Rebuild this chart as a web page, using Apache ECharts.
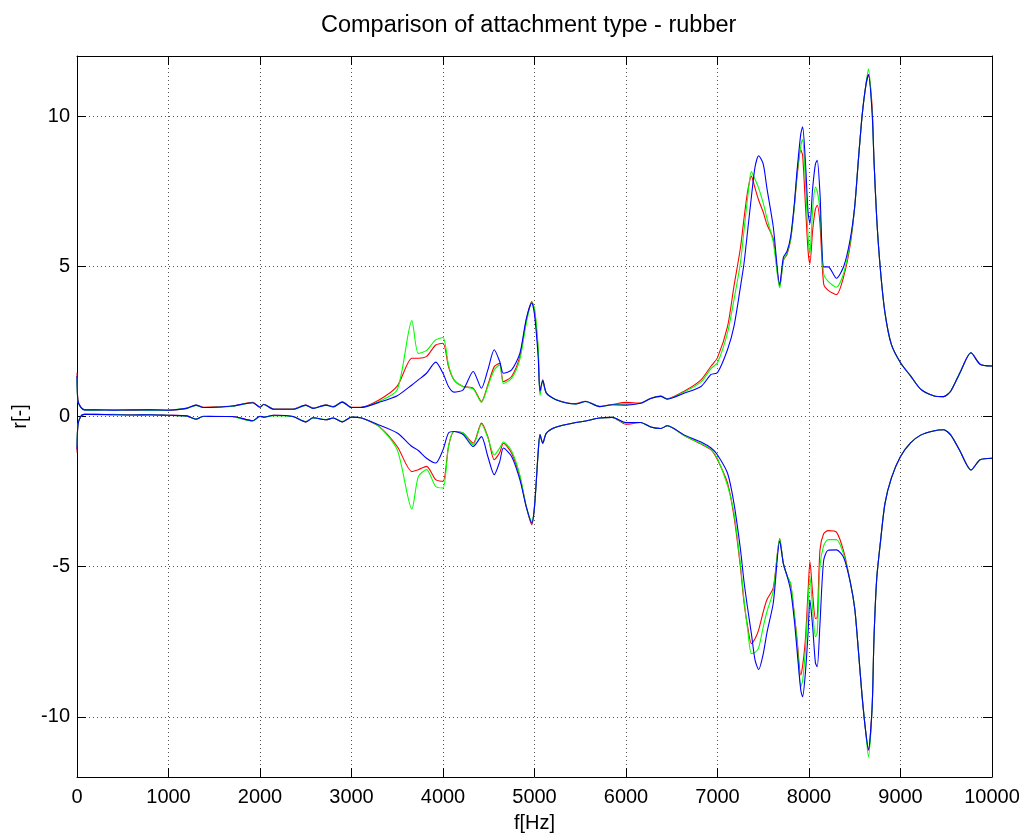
<!DOCTYPE html>
<html>
<head>
<meta charset="utf-8">
<style>
  html, body { margin: 0; padding: 0; background: #fff; }
  #chart { width: 1027px; height: 840px; }
</style>
<script src="https://cdn.jsdelivr.net/npm/echarts@6/dist/echarts.min.js"></script>
</head>
<body>
<div id="chart"></div>
<script>
// Frequency samples [Hz] shared by every curve
const freqHz = [
  0, 10, 40, 80, 200, 400, 600, 800, 1000, 1200, 1300, 1380, 1520, 1700, 1920, 2000, 2040, 2150, 2360, 2500,
  2580, 2720, 2800, 2900, 3000, 3100, 3300, 3500, 3660, 3730, 3820, 3920, 4000, 4060, 4120, 4220, 4330, 4420, 4490, 4560,
  4620, 4660, 4750, 4840, 4910, 4970, 5000, 5040, 5060, 5090, 5130, 5240, 5450, 5560, 5710, 5850, 6000, 6160, 6270, 6380,
  6450, 6640, 6820, 6930, 7000, 7110, 7180, 7250, 7290, 7330, 7370, 7410, 7450, 7500, 7540, 7610, 7680, 7720, 7760, 7800,
  7840, 7870, 7910, 7930, 7960, 7990, 8010, 8040, 8070, 8090, 8120, 8160, 8210, 8300, 8380, 8450, 8500, 8540, 8580, 8620,
  8650, 8690, 8710, 8740, 8780, 8830, 8900, 9000, 9110, 9220, 9360, 9470, 9550, 9650, 9770, 9870, 10000
];

// Red curve, upper and lower branch
const redUpper = [
  1.46, 0.55, 0.32, 0.23, 0.22, 0.23, 0.21, 0.23, 0.21, 0.28, 0.38, 0.31, 0.32, 0.35, 0.47, 0.31, 0.41, 0.25, 0.25, 0.38,
  0.28, 0.39, 0.33, 0.49, 0.31, 0.31, 0.55, 1.01, 1.94, 1.94, 2.00, 2.38, 2.44, 1.66, 1.22, 1.00, 0.94, 0.50, 1.05, 1.66,
  1.77, 1.16, 1.33, 2.00, 3.20, 3.83, 3.55, 2.20, 0.80, 1.22, 0.78, 0.56, 0.43, 0.51, 0.34, 0.40, 0.47, 0.45, 0.61, 0.68,
  0.59, 0.85, 1.22, 1.68, 1.96, 3.00, 4.34, 5.60, 6.60, 7.50, 8.00, 7.60, 7.20, 6.80, 6.40, 5.90, 4.33, 5.20, 5.40, 5.90,
  7.00, 8.00, 8.87, 8.70, 7.10, 5.50, 5.09, 6.20, 6.90, 7.03, 6.42, 4.42, 4.20, 4.06, 4.67, 5.70, 7.00, 8.55, 10.00, 11.00,
  11.38, 10.30, 8.55, 6.60, 4.90, 3.46, 2.40, 1.79, 1.35, 0.91, 0.69, 0.66, 0.85, 1.46, 2.12, 1.74, 1.68
];
const redLower = [
  -1.20, -0.30, 0.00, 0.07, 0.07, 0.06, 0.06, 0.05, 0.04, 0.02, -0.09, 0.00, 0.00, 0.00, -0.14, 0.00, -0.02, 0.04, 0.00, -0.18,
  -0.04, -0.11, -0.05, -0.18, -0.02, -0.04, -0.33, -1.00, -1.83, -1.77, -1.66, -2.10, -2.16, -1.00, -0.50, -0.55, -0.89, -0.22, -0.67, -1.44,
  -1.20, -0.89, -1.22, -2.00, -3.00, -3.60, -3.00, -1.20, -0.60, -0.89, -0.55, -0.35, -0.20, -0.15, -0.05, -0.03, -0.26, -0.20, -0.35, -0.40,
  -0.31, -0.64, -0.92, -1.11, -1.44, -2.22, -3.33, -5.00, -6.20, -7.00, -7.56, -7.40, -7.10, -6.50, -6.10, -5.70, -4.06, -4.90, -5.30, -5.60,
  -6.60, -7.44, -8.60, -8.30, -7.44, -5.80, -4.83, -5.90, -6.72, -6.70, -4.44, -3.90, -3.80, -3.85, -4.50, -5.50, -6.40, -7.80, -9.30, -10.50,
  -11.10, -9.67, -7.40, -5.40, -4.20, -2.90, -2.05, -1.33, -0.88, -0.62, -0.48, -0.44, -0.62, -1.15, -1.78, -1.44, -1.39
];

// Green curve, upper and lower branch
const greenUpper = [
  1.30, 0.50, 0.30, 0.22, 0.21, 0.22, 0.22, 0.21, 0.22, 0.27, 0.37, 0.30, 0.31, 0.34, 0.46, 0.30, 0.40, 0.24, 0.24, 0.37,
  0.27, 0.38, 0.33, 0.48, 0.30, 0.30, 0.50, 0.89, 3.19, 2.10, 2.20, 2.55, 2.63, 1.72, 1.22, 1.00, 0.92, 0.47, 1.00, 1.55,
  1.72, 1.10, 1.27, 1.90, 3.10, 3.80, 3.60, 2.30, 0.70, 1.15, 0.78, 0.55, 0.42, 0.50, 0.33, 0.39, 0.42, 0.44, 0.60, 0.67,
  0.58, 0.82, 1.15, 1.60, 1.79, 2.79, 3.89, 5.10, 6.20, 7.30, 8.15, 7.90, 7.60, 7.10, 6.60, 5.80, 4.28, 5.20, 5.45, 5.90,
  7.00, 8.10, 9.00, 9.22, 7.90, 6.00, 5.42, 6.90, 7.64, 7.50, 6.87, 4.76, 4.50, 4.30, 4.78, 5.80, 7.00, 8.55, 10.00, 11.00,
  11.57, 10.10, 8.55, 6.60, 4.90, 3.46, 2.40, 1.79, 1.35, 0.91, 0.69, 0.66, 0.85, 1.46, 2.12, 1.74, 1.68
];
const greenLower = [
  -1.00, -0.28, 0.00, 0.07, 0.06, 0.07, 0.05, 0.06, 0.04, 0.01, -0.08, 0.00, 0.01, -0.01, -0.15, 0.00, -0.02, 0.03, 0.00, -0.17,
  -0.05, -0.10, -0.05, -0.17, -0.02, -0.04, -0.33, -1.11, -3.08, -2.00, -1.77, -2.33, -2.38, -1.00, -0.50, -0.55, -0.95, -0.25, -0.70, -1.28,
  -1.05, -0.85, -1.15, -1.95, -3.00, -3.50, -3.00, -1.20, -0.60, -0.89, -0.55, -0.35, -0.20, -0.15, -0.05, -0.03, -0.22, -0.20, -0.35, -0.40,
  -0.31, -0.64, -0.90, -1.10, -1.40, -2.30, -3.20, -4.90, -6.10, -7.10, -7.89, -7.85, -7.70, -7.00, -6.50, -5.80, -4.06, -4.90, -5.30, -5.56,
  -6.60, -7.50, -9.00, -8.80, -7.80, -6.20, -5.33, -6.40, -7.33, -7.20, -5.00, -4.30, -4.10, -4.10, -4.60, -5.50, -6.40, -7.80, -9.30, -10.50,
  -11.33, -9.67, -7.40, -5.40, -4.20, -2.90, -2.05, -1.33, -0.88, -0.62, -0.48, -0.44, -0.62, -1.15, -1.78, -1.44, -1.39
];

// Blue curve, upper and lower branch
const blueUpper = [
  1.35, 0.52, 0.31, 0.22, 0.22, 0.21, 0.22, 0.22, 0.21, 0.27, 0.38, 0.30, 0.31, 0.35, 0.46, 0.31, 0.40, 0.24, 0.24, 0.38,
  0.27, 0.38, 0.32, 0.48, 0.30, 0.30, 0.47, 0.69, 1.05, 1.22, 1.44, 1.81, 1.44, 1.00, 0.81, 0.89, 1.50, 0.94, 1.55, 2.22,
  1.83, 1.44, 1.55, 2.10, 3.25, 3.78, 3.40, 2.00, 0.85, 1.20, 0.78, 0.55, 0.42, 0.50, 0.33, 0.39, 0.38, 0.44, 0.60, 0.67,
  0.58, 0.78, 1.00, 1.40, 1.46, 2.23, 3.00, 4.30, 5.10, 6.20, 7.30, 8.30, 8.68, 8.40, 7.60, 6.30, 4.40, 5.30, 5.50, 6.00,
  7.10, 8.20, 9.40, 9.64, 8.53, 6.80, 6.42, 7.60, 8.40, 8.53, 7.42, 4.98, 4.98, 4.60, 5.00, 5.90, 7.00, 8.55, 10.00, 11.00,
  11.38, 10.10, 8.55, 6.60, 4.90, 3.46, 2.40, 1.79, 1.35, 0.91, 0.69, 0.66, 0.85, 1.46, 2.12, 1.74, 1.68
];
const blueLower = [
  -1.10, -0.29, 0.00, 0.07, 0.07, 0.06, 0.05, 0.06, 0.04, 0.02, -0.09, 0.01, 0.00, 0.00, -0.14, 0.01, -0.02, 0.04, 0.00, -0.18,
  -0.04, -0.11, -0.05, -0.18, -0.02, -0.04, -0.28, -0.55, -1.00, -1.13, -1.39, -1.55, -1.11, -0.55, -0.50, -0.60, -1.00, -0.67, -1.33, -1.94,
  -1.50, -1.05, -1.33, -2.10, -3.00, -3.55, -3.00, -1.20, -0.60, -0.89, -0.55, -0.35, -0.20, -0.15, -0.05, -0.03, -0.20, -0.20, -0.35, -0.40,
  -0.31, -0.62, -0.85, -1.05, -1.28, -1.89, -2.89, -4.40, -5.50, -6.40, -7.22, -8.10, -8.42, -7.90, -7.20, -6.20, -4.15, -4.90, -5.30, -5.80,
  -6.80, -7.80, -9.10, -9.33, -8.56, -7.20, -6.10, -7.00, -8.20, -8.33, -6.90, -4.80, -4.45, -4.44, -4.70, -5.50, -6.40, -7.80, -9.30, -10.50,
  -11.10, -9.67, -7.40, -5.40, -4.20, -2.90, -2.05, -1.33, -0.88, -0.62, -0.48, -0.44, -0.62, -1.15, -1.78, -1.44, -1.39
];

const xTicks = [0, 1000, 2000, 3000, 4000, 5000, 6000, 7000, 8000, 9000, 10000];
const yTicks = [-10, -5, 0, 5, 10];

const pairs = (vals) => freqHz.map((f, i) => [f, vals[i]]);

const chart = echarts.init(document.getElementById('chart'), null, { renderer: 'canvas' });

const fontFamily = '"Liberation Sans", Arial, Helvetica, sans-serif';
const gridLine = { show: true, lineStyle: { color: '#555', width: 1, type: [1, 3] } };
const tickStyle = { show: true, inside: true, length: 9, lineStyle: { color: '#000', width: 1 } };
const frame = { show: true, onZero: false, lineStyle: { color: '#000', width: 1 } };
const plain = (v) => String(v);

function lineSeries(name, color, vals) {
  return {
    name, type: 'line', data: pairs(vals),
    showSymbol: false, symbol: 'none', smooth: 0.25,
    lineStyle: { color, width: 1.1 }, itemStyle: { color },
    xAxisIndex: 0, yAxisIndex: 0, z: 3
  };
}

chart.setOption({
  animation: false,
  backgroundColor: '#fff',
  title: {
    text: 'Comparison of attachment type - rubber',
    left: 316, top: 9,
    textStyle: { fontFamily, fontSize: 23.5, fontWeight: 'normal', color: '#000' }
  },
  grid: { left: 77, right: 35, top: 56, bottom: 63 },
  xAxis: [
    {
      type: 'value', position: 'bottom', min: 0, max: 10000, interval: 1000,
      name: 'f[Hz]', nameLocation: 'middle', nameGap: 36,
      nameTextStyle: { fontFamily, fontSize: 20, color: '#000' },
      axisLine: frame, axisTick: tickStyle, splitLine: gridLine,
      axisLabel: {
        fontFamily, fontSize: 20, color: '#000', margin: 10,
        customValues: xTicks, formatter: plain
      }
    },
    {
      type: 'value', position: 'top', min: 0, max: 10000, interval: 1000,
      axisLine: frame, axisTick: tickStyle, splitLine: { show: false },
      axisLabel: { show: false }
    }
  ],
  yAxis: [
    {
      type: 'value', position: 'left', min: -12, max: 12, splitNumber: 5,
      name: 'r[-]', nameLocation: 'middle', nameGap: 45, nameRotate: 90,
      nameTextStyle: { fontFamily, fontSize: 20, color: '#000' },
      axisLine: frame,
      axisTick: Object.assign({}, tickStyle, { customValues: yTicks }),
      splitLine: gridLine,
      axisLabel: {
        fontFamily, fontSize: 20, color: '#000', margin: 7,
        customValues: yTicks, formatter: plain
      }
    },
    {
      type: 'value', position: 'right', min: -12, max: 12, splitNumber: 5,
      axisLine: frame,
      axisTick: Object.assign({}, tickStyle, { customValues: yTicks }),
      splitLine: { show: false }, axisLabel: { show: false }
    }
  ],
  series: [
    lineSeries('red upper', '#ff0000', redUpper),
    lineSeries('red lower', '#ff0000', redLower),
    lineSeries('green upper', '#00ff00', greenUpper),
    lineSeries('green lower', '#00ff00', greenLower),
    lineSeries('blue upper', '#0000ff', blueUpper),
    lineSeries('blue lower', '#0000ff', blueLower)
  ]
});
</script>
</body>
</html>
